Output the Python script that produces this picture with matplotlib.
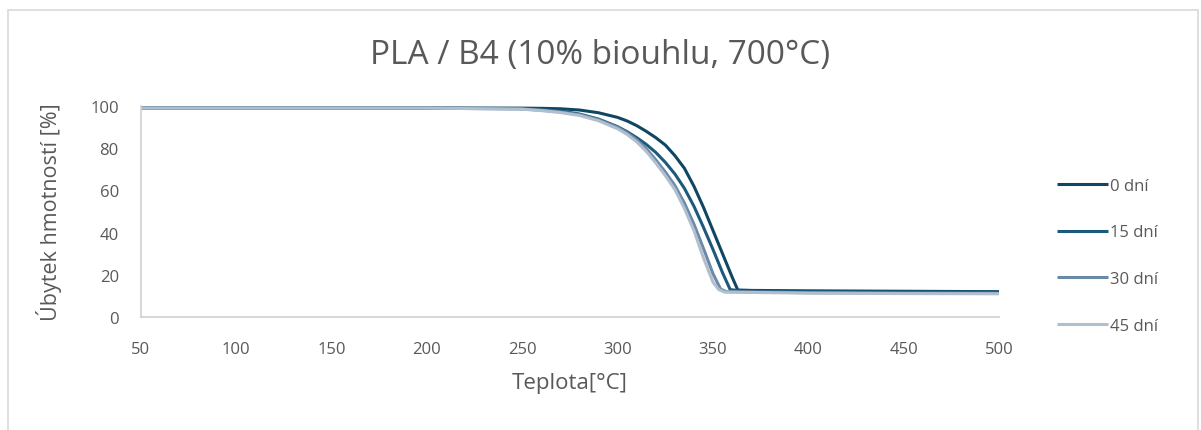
import matplotlib
matplotlib.use("Agg")
from matplotlib import pyplot as plt
import matplotlib.patches as patches

plt.rcParams['font.family'] = ['Open Sans', 'DejaVu Sans']

# Temperature [°C] and weight (%)
temp_0 = [50, 100, 150, 200, 250, 260, 270, 280, 290, 300, 305, 310, 315, 320, 325,
          330, 335, 340, 345, 350, 355, 360, 363, 370, 400, 450, 500]
mass_0 = [99, 99, 99, 99, 99, 98.9, 98.7, 98.1, 96.8, 94.6, 92.9, 90.7, 88, 85, 81.5,
          76.5, 70.5, 62, 52, 41, 30, 19, 12.8, 12.6, 12.4, 12.2, 12]

temp_15 = [50, 100, 150, 200, 250, 260, 270, 280, 290, 300, 305, 310, 315, 320, 325,
           330, 335, 340, 345, 350, 355, 359, 365, 400, 450, 500]
mass_15 = [99, 99, 99, 99, 98.8, 98.4, 97.6, 96.2, 93.8, 90.2, 87.8, 85, 81.8, 78, 73.3,
           67.8, 61, 52.5, 42.5, 32, 21, 13, 12.3, 12, 11.9, 11.8]

temp_30 = [50, 100, 150, 200, 250, 260, 270, 280, 290, 300, 305, 310, 315, 320, 325,
           330, 335, 340, 345, 350, 354, 357, 400, 450, 500]
mass_30 = [99, 99, 99, 99, 98.6, 98, 97.2, 95.9, 93.5, 89.9, 87.3, 84, 79.8, 74.5, 68.7,
           62.3, 54, 44, 32.5, 20.5, 13.2, 12, 11.5, 11.3, 11.2]

temp_45 = [50, 100, 150, 200, 250, 260, 270, 280, 290, 300, 305, 310, 315, 320, 325,
           330, 335, 340, 345, 350, 353, 356, 400, 450, 500]
mass_45 = [99, 99, 99, 99, 98.5, 97.8, 96.9, 95.5, 93, 89.2, 86.5, 83, 78.5, 73, 67,
           60.5, 51.5, 41, 28, 16.5, 13, 11.8, 11.3, 11.1, 11]

labels = ["0 dní", "15 dní", "30 dní", "45 dní"]
colors = ["#0f4763", "#1c5a7b", "#6b8aa5", "#b0bfcf"]

x_ticks = [50, 100, 150, 200, 250, 300, 350, 400, 450, 500]
y_ticks = [0, 20, 40, 60, 80, 100]

fig = plt.figure(figsize=(12.01, 4.31), dpi=100)
ax = fig.add_axes([0.1174, 0.2622, 0.7144, 0.4895])

# chart border like in Excel
border = patches.Rectangle((8 / 1201, -0.05), 1190 / 1201, 1 - 11 / 431 + 0.05,
                           transform=fig.transFigure, fill=False,
                           edgecolor="#d9d9d9", linewidth=1.2)
fig.patches.append(border)

series = [(temp_0, mass_0), (temp_15, mass_15), (temp_30, mass_30), (temp_45, mass_45)]
for (t, m), lab, c in zip(series, labels, colors):
    ax.plot(t, m, color=c, linewidth=2.2, label=lab, solid_capstyle='butt')

ax.set_xlim(50, 500)
ax.set_ylim(0, 100)
ax.set_xticks(x_ticks)
ax.set_yticks(y_ticks)
ax.tick_params(length=0, labelsize=12, labelcolor="#595959")
ax.tick_params(axis='x', pad=17)
ax.tick_params(axis='y', pad=16)

for s in ['top', 'right']:
    ax.spines[s].set_visible(False)
for s in ['left', 'bottom']:
    ax.spines[s].set_color("#d0d0d0")
    ax.spines[s].set_linewidth(1.2)

ax.set_xlabel("Teplota[°C]", fontsize=16, color="#595959", labelpad=11)
ax.set_ylabel("Úbytek hmotností [%]", fontsize=15.5, color="#595959", labelpad=20)

fig.text(0.5, 0.872, "PLA / B4 (10% biouhlu, 700°C)", ha='center', va='center',
         fontsize=24, color="#595959")

ax.legend(loc='center left', bbox_to_anchor=(1.05, 0.29), frameon=False,
          fontsize=12, labelcolor="#595959", handlelength=3.05, handletextpad=0.15,
          labelspacing=1.85)

plt.savefig("out.png", dpi=100)
